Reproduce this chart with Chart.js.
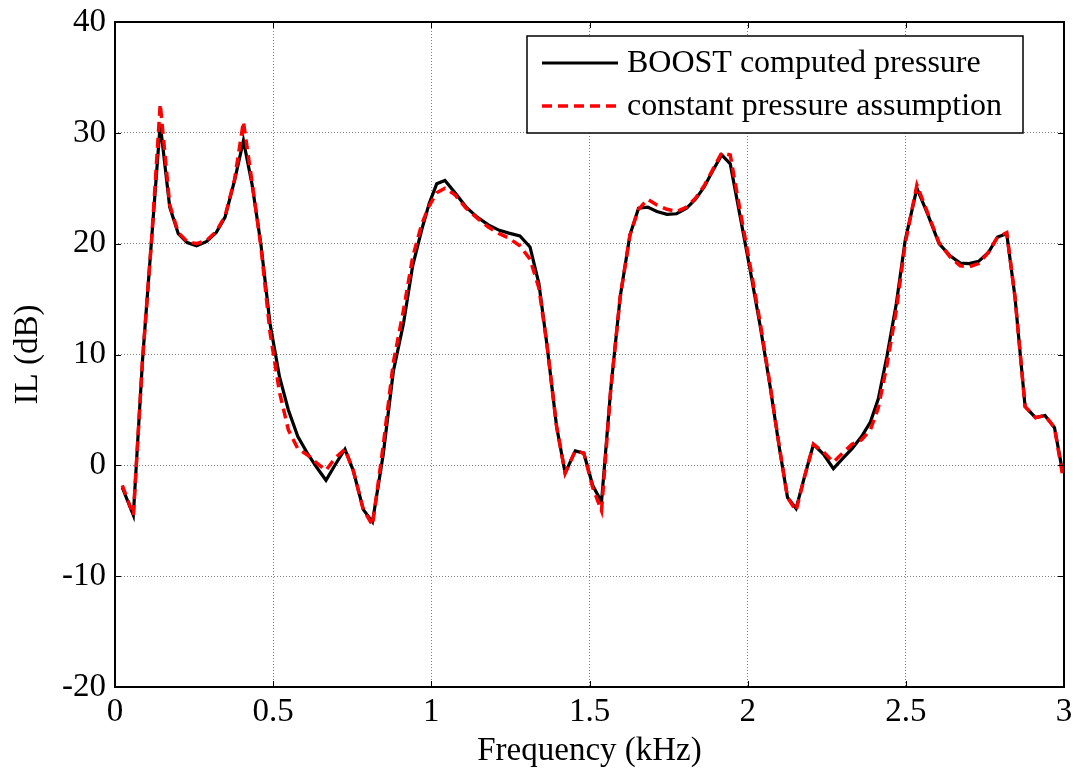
<!DOCTYPE html>
<html>
<head>
<meta charset="utf-8">
<script src="https://cdn.jsdelivr.net/npm/chart.js@4.4.1/dist/chart.umd.min.js"></script>
<style>
  html, body { margin: 0; padding: 0; background: #fff; }
</style>
</head>
<body>
<canvas id="myChart" width="1075" height="774"></canvas>
<script>
// frequency (kHz) and insertion loss (dB)
const freq = [
  0.023, 0.058, 0.087, 0.116, 0.143, 0.173, 0.200, 0.228, 0.258, 0.290,
  0.320, 0.348, 0.378, 0.406, 0.433, 0.461, 0.490, 0.520, 0.548, 0.578,
  0.610, 0.638, 0.667, 0.697, 0.727, 0.753, 0.785, 0.814, 0.848, 0.880,
  0.912, 0.941, 0.970, 0.993, 1.017, 1.043, 1.075, 1.110, 1.145, 1.180,
  1.215, 1.245, 1.280, 1.312, 1.340, 1.365, 1.396, 1.423, 1.455, 1.482,
  1.510, 1.538, 1.567, 1.597, 1.628, 1.655, 1.684, 1.713, 1.745, 1.775,
  1.807, 1.835, 1.862, 1.890, 1.918, 1.945, 1.976, 2.008, 2.040, 2.070,
  2.100, 2.126, 2.153, 2.180, 2.208, 2.240, 2.271, 2.300, 2.330, 2.360,
  2.388, 2.413, 2.440, 2.470, 2.498, 2.535, 2.570, 2.605, 2.640, 2.672,
  2.700, 2.730, 2.761, 2.790, 2.819, 2.845, 2.877, 2.910, 2.940, 2.970,
  2.995
];
const boost = [
  -2.0, -4.5, 9.5, 20.5, 30.8, 23.3, 20.9, 20.1, 19.8, 20.2,
  21.0, 22.4, 25.7, 29.3, 25.4, 20.0, 12.8, 8.0, 5.0, 2.6,
  1.0, -0.2, -1.35, 0.1, 1.45, -0.45, -4.0, -5.1, 1.0, 8.5,
  12.8, 18.0, 21.3, 23.6, 25.4, 25.7, 24.6, 23.3, 22.4, 21.7,
  21.2, 20.95, 20.7, 19.7, 16.4, 11.0, 3.5, -0.7, 1.3, 1.1,
  -1.8, -3.3, 6.8, 15.2, 20.8, 23.2, 23.3, 22.9, 22.65, 22.7,
  23.2, 24.0, 25.1, 26.6, 28.0, 27.2, 22.5, 17.6, 12.5, 7.3,
  1.6, -2.9, -3.9, -1.0, 1.9, 1.0, -0.3, 0.6, 1.5, 2.6,
  3.9, 6.0, 9.8, 14.6, 20.3, 25.0, 22.6, 20.0, 18.9, 18.25,
  18.2, 18.4, 19.2, 20.6, 20.9, 15.2, 5.3, 4.3, 4.5, 3.4,
  -0.5
];
const constP = [
  -1.8, -4.5, 9.5, 20.5, 32.6, 23.5, 21.0, 20.2, 20.0, 20.3,
  21.1, 22.5, 25.8, 31.0, 25.6, 19.8, 12.0, 6.6, 3.2, 1.5,
  0.9, 0.2, -0.45, 0.7, 1.45, -0.45, -4.0, -5.4, 1.8, 9.3,
  14.0, 18.8, 21.8, 23.4, 24.6, 25.0, 24.4, 23.2, 22.3, 21.5,
  20.9, 20.5, 19.8, 18.6, 16.0, 11.0, 3.5, -0.7, 1.3, 1.1,
  -2.0, -4.1, 6.8, 15.2, 20.8, 23.1, 24.0, 23.5, 23.1, 22.9,
  23.3, 24.1, 25.2, 26.7, 28.2, 28.0, 23.0, 18.0, 12.8, 7.4,
  1.7, -2.9, -4.1, -1.0, 1.9, 1.2, 0.3, 1.1, 1.9, 2.3,
  3.2, 5.2, 9.0, 14.0, 20.0, 25.3, 22.7, 20.1, 18.8, 18.0,
  17.9, 18.2, 19.2, 20.6, 21.0, 15.2, 5.3, 4.3, 4.5, 3.4,
  -0.8
];
const xTicks = [0, 0.5, 1, 1.5, 2, 2.5, 3];
const xTickLabels = ['0', '0.5', '1', '1.5', '2', '2.5', '3'];
const yTicks = [-20, -10, 0, 10, 20, 30, 40];

const FONT = 'Liberation Serif, Times New Roman, serif';

// MATLAB style box, inner ticks and boxed legend
const matlabFrame = {
  id: 'matlabFrame',
  afterDatasetsDraw(chart) {
    const { ctx, chartArea: a, scales } = chart;
    ctx.save();
    ctx.strokeStyle = '#000';
    ctx.lineWidth = 1;
    ctx.beginPath();
    xTicks.forEach(v => {
      const px = Math.round(scales.x.getPixelForValue(v)) + 0.5;
      ctx.moveTo(px, a.bottom); ctx.lineTo(px, a.bottom - 6);
      ctx.moveTo(px, a.top); ctx.lineTo(px, a.top + 6);
    });
    yTicks.forEach(v => {
      const py = Math.round(scales.y.getPixelForValue(v)) + 0.5;
      ctx.moveTo(a.left, py); ctx.lineTo(a.left + 6, py);
      ctx.moveTo(a.right, py); ctx.lineTo(a.right - 6, py);
    });
    ctx.stroke();
    ctx.lineWidth = 2;
    ctx.strokeRect(a.left, a.top, a.right - a.left, a.bottom - a.top);

    // legend
    const lx = 527, ly = 36, lw = 496, lh = 97;
    ctx.fillStyle = '#fff';
    ctx.fillRect(lx, ly, lw, lh);
    ctx.lineWidth = 1.5;
    ctx.strokeRect(lx, ly, lw, lh);
    ctx.font = '32px ' + FONT;
    ctx.textBaseline = 'middle';
    ctx.fillStyle = '#000';
    chart.data.datasets.forEach((ds, i) => {
      const y = ly + 27 + i * 43;
      ctx.strokeStyle = ds.borderColor;
      ctx.lineWidth = ds.borderWidth;
      ctx.setLineDash(ds.borderDash || []);
      ctx.beginPath();
      ctx.moveTo(542, y); ctx.lineTo(618, y);
      ctx.stroke();
      ctx.setLineDash([]);
      ctx.fillText(ds.label, 627, y + 1);
    });
    ctx.restore();
  }
};

const ctx = document.getElementById('myChart');

new Chart(ctx, {
  type: 'line',
  data: {
    datasets: [
      {
        label: 'BOOST computed pressure',
        data: freq.map((f, i) => ({ x: f, y: boost[i] })),
        borderColor: '#000',
        borderWidth: 3.2,
        pointRadius: 0,
        tension: 0,
        order: 2
      },
      {
        label: 'constant pressure assumption',
        data: freq.map((f, i) => ({ x: f, y: constP[i] })),
        borderColor: '#ff0000',
        borderWidth: 3.5,
        borderDash: [10, 6],
        pointRadius: 0,
        tension: 0,
        order: 1
      }
    ]
  },
  options: {
    responsive: false,
    animation: false,
    devicePixelRatio: 1,
    layout: { padding: { left: 0, top: 22, right: 11, bottom: 0 } },
    plugins: {
      legend: { display: false },
      tooltip: { enabled: false }
    },
    scales: {
      x: {
        type: 'linear',
        min: 0,
        max: 3,
        afterFit: s => { s.height = 87; s.paddingLeft = 0; s.paddingRight = 0; },
        afterBuildTicks: s => { s.ticks = xTicks.map(v => ({ value: v })); },
        grid: { color: '#808080', lineWidth: 1, drawTicks: false },
        border: { display: false, dash: [1, 2] },
        ticks: {
          color: '#000', padding: 6, maxRotation: 0,
          font: { family: FONT, size: 33 },
          callback: (v, i) => xTickLabels[i]
        },
        title: { display: true, text: 'Frequency (kHz)', color: '#000', font: { family: FONT, size: 33 }, padding: { top: 0, bottom: 3 } }
      },
      y: {
        min: -20,
        max: 40,
        afterFit: s => { s.width = 115; s.paddingTop = 0; s.paddingBottom = 0; },
        afterBuildTicks: s => { s.ticks = yTicks.map(v => ({ value: v })); },
        grid: { color: '#808080', lineWidth: 1, drawTicks: false },
        border: { display: false, dash: [1, 2] },
        ticks: { color: '#000', padding: 9, font: { family: FONT, size: 33 } },
        title: { display: true, text: 'IL (dB)', color: '#000', font: { family: FONT, size: 33 }, padding: { top: 9, bottom: 0 } }
      }
    }
  },
  plugins: [matlabFrame]
});
</script>
</body>
</html>
